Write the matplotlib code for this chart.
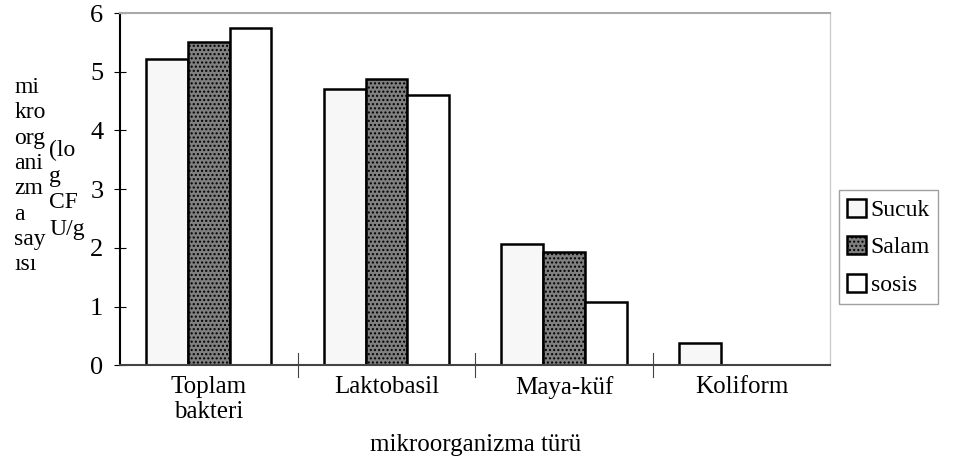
import numpy as np
import matplotlib.pyplot as plt

plt.rcParams['font.family'] = ['Liberation Serif', 'DejaVu Serif']

kategoriler = ['Toplam\nbakteri', 'Laktobasil', 'Maya-küf', 'Koliform']
sucuk = [5.22, 4.70, 2.07, 0.37]
salam = [5.50, 4.87, 1.93, 0.0]
sosis = [5.75, 4.61, 1.07, 0.0]

fig = plt.figure(figsize=(9.64, 4.67), dpi=100)
ax = fig.add_axes([0.1245, 0.218, 0.737, 0.754])

x = np.arange(len(kategoriler))
w = 0.235
ax.bar(x - w, sucuk, w, color='#f7f7f7', edgecolor='black', linewidth=1.8, label='Sucuk')
ax.bar(x, salam, w, color='#808080', edgecolor='black', linewidth=1.8, hatch='....', label='Salam')
ax.bar(x + w, sosis, w, color='white', edgecolor='black', linewidth=1.8, label='sosis')

ax.set_xlim(-0.5, 3.5)
ax.set_ylim(0, 6)
ax.set_yticks(range(7))
ax.tick_params(axis='y', labelsize=19, direction='inout', length=8, width=0.8, pad=8)
ax.set_xticks(x)
ax.set_xticklabels(kategoriler, fontsize=18, linespacing=1.15)
ax.tick_params(axis='x', length=0, pad=8)
# kategori sinirlarindaki kucuk cizgiler
for b in [0.5, 1.5, 2.5]:
    ax.plot([b, b], [-0.2, 0.2], color='#444444', lw=0.8, clip_on=False)

ax.spines['left'].set_linewidth(1.5)
ax.spines['bottom'].set_linewidth(1.5)
ax.spines['bottom'].set_color('#444444')
ax.spines['top'].set_color('#aaaaaa')
ax.spines['top'].set_linewidth(1.5)
ax.spines['right'].set_color('#cccccc')
ax.spines['right'].set_linewidth(1.0)

ax.set_xlabel('mikroorganizma türü', fontsize=18, labelpad=8)

fig.text(0.015, 0.835, 'mi\nkro\norg\nani\nzm\na\nsay\nısı', fontsize=17,
         va='top', ha='left', linespacing=1.27)
fig.text(0.051, 0.70, '(lo\ng\nCF\nU/g', fontsize=17,
         va='top', ha='left', linespacing=1.32)

leg = ax.legend(loc='center left', bbox_to_anchor=(1.002, 0.335), fontsize=17,
                frameon=True, fancybox=False, edgecolor='#888888',
                handlelength=0.8, handleheight=0.8, handletextpad=0.2,
                borderpad=0.35, labelspacing=0.65, borderaxespad=0.3)
leg.get_frame().set_linewidth(1.0)

fig.savefig('out.png', dpi=100)
